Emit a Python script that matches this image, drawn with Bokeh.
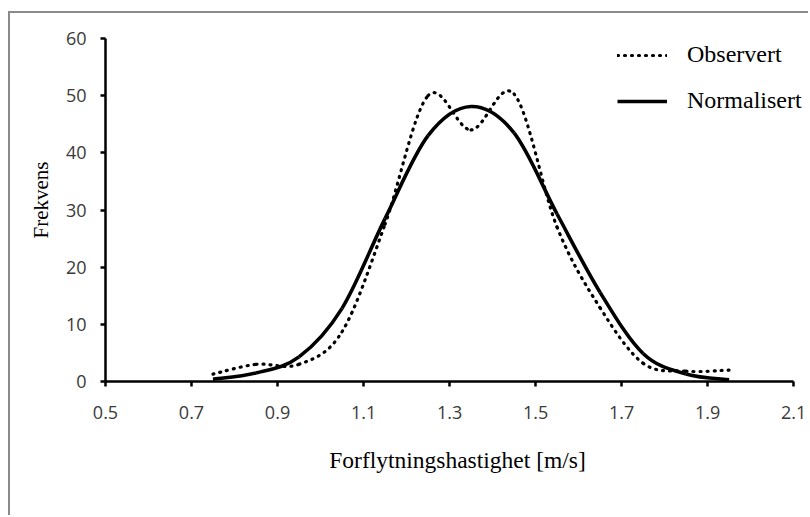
from bokeh.plotting import figure
from bokeh.models import Range1d, FixedTicker, Legend, LegendItem
from bokeh.embed import file_html
from bokeh.resources import INLINE

# --- data -------------------------------------------------------------------
hastighet = [0.75, 0.85, 0.95, 1.05, 1.15, 1.25, 1.35, 1.45, 1.55, 1.65, 1.75, 1.85, 1.95]
observert = [1.3, 3.0, 3.0, 8.7, 27.5, 50.0, 44.0, 50.3, 27.0, 12.9, 3.2, 1.8, 2.0]
normalisert = [0.4, 1.5, 4.3, 12.8, 28.5, 43.0, 48.1, 43.5, 29.3, 15.6, 4.9, 1.3, 0.3]
x_ticks = [0.5, 0.7, 0.9, 1.1, 1.3, 1.5, 1.7, 1.9, 2.1]
y_ticks = [0, 10, 20, 30, 40, 50, 60]
x_tick_labels = ["0.5", "0.7", "0.9", "1.1", "1.3", "1.5", "1.7", "1.9", "2.1"]
y_tick_labels = ["0", "10", "20", "30", "40", "50", "60"]


def smooth_segments(xs, ys):
    """Control points of a smoothed (Excel-style, Catmull-Rom) line, one Bezier per segment."""
    n = len(xs)
    seg = dict(x0=[], y0=[], x1=[], y1=[], cx0=[], cy0=[], cx1=[], cy1=[])
    for i in range(n - 1):
        p0 = max(i - 1, 0)
        p3 = min(i + 2, n - 1)
        seg["x0"].append(xs[i]); seg["y0"].append(ys[i])
        seg["x1"].append(xs[i + 1]); seg["y1"].append(ys[i + 1])
        seg["cx0"].append(xs[i] + (xs[i + 1] - xs[p0]) / 6)
        seg["cy0"].append(ys[i] + (ys[i + 1] - ys[p0]) / 6)
        seg["cx1"].append(xs[i + 1] - (xs[p3] - xs[i]) / 6)
        seg["cy1"].append(ys[i + 1] - (ys[p3] - ys[i]) / 6)
    return seg


# the plot frame extends past the axes (axes limited with bounds) so that the
# legend and the axis titles sit where the reference has them
p = figure(width=800, height=504, output_backend="svg", toolbar_location=None,
           x_range=Range1d(0.5, 2.137), y_range=Range1d(0, 63.5),
           min_border_left=95, min_border_right=1, min_border_top=5, min_border_bottom=136)
p.styles = {"border-left": "2px solid #8a8a8a", "border-top": "2px solid #8a8a8a",
            "margin-top": "11px", "margin-left": "8px"}
p.outline_line_color = None
p.xgrid.visible = False
p.ygrid.visible = False
p.background_fill_color = "white"
p.border_fill_color = "white"

obs = p.bezier(source=smooth_segments(hastighet, observert), x0="x0", y0="y0", x1="x1", y1="y1",
               cx0="cx0", cy0="cy0", cx1="cx1", cy1="cy1",
               line_color="black", line_width=3.2, line_dash="1 6", line_cap="round")
nor = p.bezier(source=smooth_segments(hastighet, normalisert), x0="x0", y0="y0", x1="x1", y1="y1",
               cx0="cx0", cy0="cy0", cx1="cx1", cy1="cy1",
               line_color="black", line_width=3.6)

tick_font = "Open Sans"
for ax in (p.xaxis[0], p.yaxis[0]):
    ax.axis_line_color = "black"
    ax.axis_line_width = 2.5
    ax.major_tick_line_color = "black"
    ax.major_tick_line_width = 2.5
    ax.major_tick_in = 0
    ax.major_tick_out = 5
    ax.minor_tick_line_color = None
    ax.major_label_text_font = tick_font
    ax.major_label_text_font_size = "18px"
    ax.major_label_text_color = "#3a3a3a"
    ax.axis_label_text_font = "Liberation Serif"
    ax.axis_label_text_font_style = "normal"
    ax.axis_label_text_color = "black"

p.xaxis[0].ticker = FixedTicker(ticks=x_ticks)
p.xaxis[0].major_label_overrides = dict(zip(x_ticks, x_tick_labels))
p.xaxis[0].bounds = (x_ticks[0], x_ticks[-1])
p.yaxis[0].ticker = FixedTicker(ticks=y_ticks)
p.yaxis[0].major_label_overrides = dict(zip(y_ticks, y_tick_labels))
p.yaxis[0].bounds = (y_ticks[0], y_ticks[-1])

p.xaxis[0].axis_label = "Forflytningshastighet [m/s]"
p.xaxis[0].axis_label_text_font_size = "23.5px"
p.xaxis[0].major_label_standoff = 19
p.xaxis[0].axis_label_standoff = 25
p.yaxis[0].axis_label = "Frekvens"
p.yaxis[0].axis_label_text_font_size = "21px"
p.yaxis[0].major_label_standoff = 14
p.yaxis[0].axis_label_standoff = 10

legend = Legend(items=[LegendItem(label="Observert", renderers=[obs]),
                       LegendItem(label="Normalisert", renderers=[nor])],
                location=(512, 267), orientation="vertical",
                glyph_width=50, glyph_height=22, label_height=22, spacing=19,
                label_standoff=20, padding=0, margin=0,
                border_line_color=None, background_fill_alpha=0,
                label_text_font="Liberation Serif", label_text_font_size="24px",
                label_text_color="black")
p.add_layout(legend, "center")

open("out.html", "w").write(file_html(p, INLINE))
